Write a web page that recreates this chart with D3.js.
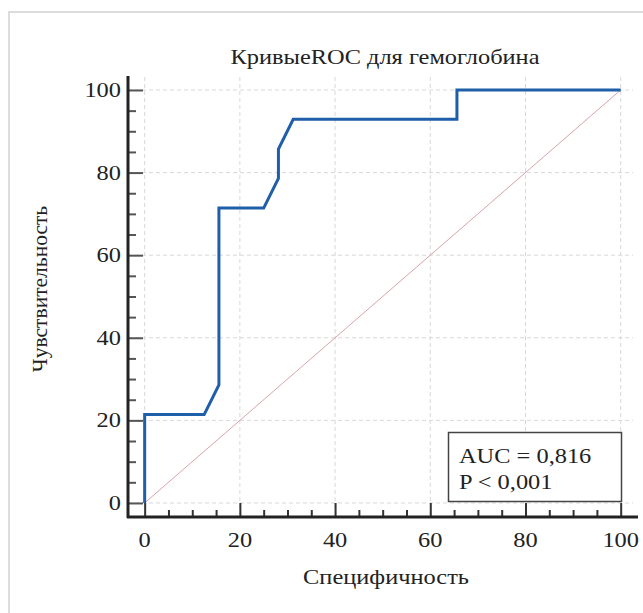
<!DOCTYPE html>
<html>
<head>
<meta charset="utf-8">
<script src="https://cdn.jsdelivr.net/npm/d3@7"></script>
<style>
  body { margin: 0; background: #fff; }
  svg text { font-family: "Liberation Serif", "DejaVu Serif", serif; fill: #222; }
</style>
</head>
<body>
<div id="chart"></div>
<script>
// ROC curve points (specificity axis value, sensitivity)
var specificity = [0, 0, 12.5, 15.6, 15.6, 25, 28.1, 28.1, 31.2, 65.6, 65.6, 100];
var sensitivity = [0, 21.4, 21.4, 28.6, 71.4, 71.4, 78.6, 85.7, 92.9, 92.9, 100, 100];
var majorTicks = [0, 20, 40, 60, 80, 100];
var minorTicks = [5, 10, 15, 25, 30, 35, 45, 50, 55, 65, 70, 75, 85, 90, 95];
var chartTitle = "КривыеROC для гемоглобина";
var xTitle = "Специфичность";
var yTitle = "Чувствительность";
var statsLines = ["AUC = 0,816", "P < 0,001"];

var W = 643, H = 613;
var stretch = 1.22; // the text in the picture is a bit wide

var svg = d3.select("#chart")
  .append("svg")
    .attr("width", W)
    .attr("height", H);

// outer light frame (cut off at right / bottom)
svg.append("path")
  .attr("d", "M9," + H + "V12H" + W)
  .attr("fill", "none")
  .attr("stroke", "#dcdcdc")
  .attr("stroke-width", 2);

var x = d3.scaleLinear().domain([-3.5, 102.5]).range([128, 632.6]);
var y = d3.scaleLinear().domain([-3.4, 103]).range([517, 77.6]);

function wideText(g, px, py, anchor, size, str) {
  return g.append("text")
    .attr("transform", "translate(" + px + "," + py + ") scale(" + stretch + ",1)")
    .attr("text-anchor", anchor)
    .attr("font-size", size)
    .text(str);
}

// grid
svg.append("g").selectAll("line")
  .data(majorTicks)
  .enter().append("line")
    .attr("x1", 128).attr("x2", 633)
    .attr("y1", function(d) { return y(d); })
    .attr("y2", function(d) { return y(d); })
    .attr("stroke", "#d8d8d8")
    .attr("stroke-dasharray", "4,3");
svg.append("g").selectAll("line")
  .data(majorTicks)
  .enter().append("line")
    .attr("y1", 77).attr("y2", 517)
    .attr("x1", function(d) { return x(d); })
    .attr("x2", function(d) { return x(d); })
    .attr("stroke", "#d8d8d8")
    .attr("stroke-dasharray", "4,3");

// diagonal reference line
svg.append("line")
  .attr("x1", x(0)).attr("y1", y(0))
  .attr("x2", x(100)).attr("y2", y(100))
  .attr("stroke", "#d9a3a8")
  .attr("stroke-width", 1);

// ROC curve
var pts = specificity.map(function(s, i) { return [s, sensitivity[i]]; });
svg.append("path")
  .datum(pts)
  .attr("fill", "none")
  .attr("stroke", "#1f5ea8")
  .attr("stroke-width", 3)
  .attr("d", d3.line()
    .x(function(d) { return x(d[0]); })
    .y(function(d) { return y(d[1]); }));

// axes, ticks pointing into the plot
var xAxis = svg.append("g")
  .attr("transform", "translate(0,517)")
  .call(d3.axisTop(x).tickValues(majorTicks).tickSize(14).tickFormat(""));
xAxis.append("g")
  .call(d3.axisTop(x).tickValues(minorTicks).tickSize(7).tickFormat(""));
xAxis.selectAll(".domain").remove();
xAxis.selectAll("line").attr("stroke", "#333").attr("stroke-width", 2);
xAxis.append("line")
  .attr("x1", 127).attr("x2", 638)
  .attr("stroke", "#222").attr("stroke-width", 3);

var yAxis = svg.append("g")
  .attr("transform", "translate(128,0)")
  .call(d3.axisRight(y).tickValues(majorTicks).tickSize(15).tickFormat(""));
yAxis.append("g")
  .call(d3.axisRight(y).tickValues(minorTicks).tickSize(8).tickFormat(""));
yAxis.selectAll(".domain").remove();
yAxis.selectAll("line").attr("stroke", "#555").attr("stroke-width", 2);
yAxis.append("line")
  .attr("y1", 76).attr("y2", 518)
  .attr("stroke", "#222").attr("stroke-width", 3);

// tick labels
var xl = svg.append("g");
majorTicks.forEach(function(d) { wideText(xl, x(d), 547, "middle", 20, d); });
var yl = svg.append("g");
majorTicks.forEach(function(d) { wideText(yl, 121, y(d) + 7, "end", 20, d); });

// titles
wideText(svg, 385, 64, "middle", 20, chartTitle);
wideText(svg, 386, 584, "middle", 20, xTitle);
svg.append("text")
  .attr("transform", "translate(47,289) rotate(-90)")
  .attr("text-anchor", "middle")
  .attr("font-size", 21.5)
  .text(yTitle);

// stats box
svg.append("rect")
  .attr("x", 448.5).attr("y", 432.5)
  .attr("width", 173).attr("height", 69)
  .attr("fill", "#fff")
  .attr("stroke", "#444")
  .attr("stroke-width", 1.5);
var sl = svg.append("g");
statsLines.forEach(function(d, i) { wideText(sl, 459, 463 + i * 26, "start", 20, d); });
</script>
</body>
</html>
